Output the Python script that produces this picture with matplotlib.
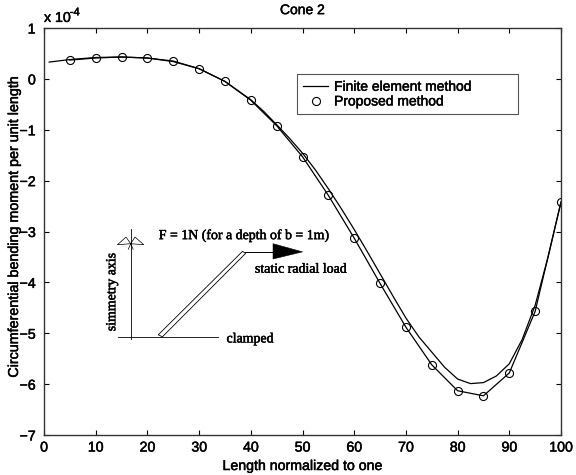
import matplotlib
matplotlib.use('Agg')
import matplotlib.pyplot as plt
import matplotlib.patheffects as pe
from matplotlib.patches import Polygon
from matplotlib.text import Text

plt.rcParams['font.family'] = ['Liberation Sans', 'DejaVu Sans']

# values are in units of 1e-4
fem_x = [1, 5, 10, 15, 20, 25, 30, 35, 40, 42.5, 45, 47.5, 50, 52.5, 55, 57.5, 60, 62.5, 65, 67.5, 70, 72.5, 75, 77.5, 80, 82.5, 85, 87.5, 90, 92.5, 95, 97.5, 100]
fem_y = [0.33, 0.38, 0.42, 0.43, 0.41, 0.34, 0.2, -0.05, -0.41, -0.64, -0.9, -1.17, -1.46, -1.79, -2.16, -2.55, -2.96, -3.39, -3.83, -4.27, -4.70, -5.07, -5.37, -5.67, -5.90, -5.99, -5.97, -5.84, -5.6, -5.12, -4.45, -3.50, -2.42]

prop_x = [5, 10, 15, 20, 25, 30, 35, 40, 45, 50, 55, 60, 65, 70, 75, 80, 85, 90, 95, 100]
prop_y = [0.37, 0.41, 0.43, 0.41, 0.35, 0.2, -0.05, -0.42, -0.92, -1.53, -2.29, -3.13, -4.02, -4.88, -5.62, -6.13, -6.23, -5.78, -4.57, -2.42]

x_ticks = [0, 10, 20, 30, 40, 50, 60, 70, 80, 90, 100]
y_ticks = [1, 0, -1, -2, -3, -4, -5, -6, -7]

# sketch of the cone, in axis data units
axis_x = [16.77, 16.77]
axis_y = [-2.95, -5.12]
clamp_x = [14.3, 33.7]
clamp_y = [-5.08, -5.08]
beam_xy = [(22.1, -5.03), (22.9, -5.07), (39.0, -3.43), (38.4, -3.39)]
load_x = [38.9, 44.3]
load_y = [-3.4, -3.4]
head_xy = [(44.3, -3.24), (44.3, -3.54), (50.0, -3.4)]
wing_l_x = [16.77, 15.87, 14.2, 16.77]
wing_l_y = [-3.24, -3.11, -3.26, -3.24]
wing_r_x = [16.77, 17.6, 19.3, 16.77]
wing_r_y = [-3.24, -3.11, -3.26, -3.24]
tail_x = [16.3, 16.77, 17.25]
tail_y = [-3.35, -3.24, -3.35]

fig = plt.figure(figsize=(5.76, 4.75), dpi=100)
ax = fig.add_axes([44 / 576, 1 - 435 / 475, 517 / 576, 407 / 475])

ax.plot(fem_x, fem_y, color='black', lw=0.9, label='Finite element method')
ax.plot(prop_x, prop_y, color='black', lw=0.9)
ax.plot(prop_x, prop_y, 'o', mfc='none', mec='black', ms=5.8, mew=0.8, label='Proposed method')

ax.set_xlim(0, 100)
ax.set_ylim(-7, 1)
ax.set_xticks(x_ticks)
ax.set_yticks(y_ticks)
ax.tick_params(direction='in', length=3.5, width=0.8, labelsize=10.2, top=True, right=True)
ax.tick_params(axis='x', pad=4)
ax.tick_params(axis='y', pad=6)
for s in ax.spines.values():
    s.set_linewidth(1.0)
    s.set_color('#333333')

ax.set_title('Cone 2', fontsize=10, pad=10)
ax.set_xlabel('Length normalized to one', fontsize=10.2)
ax.set_ylabel('Circumferential bending moment per unit length', fontsize=10.3)
ax.xaxis.set_label_coords(0.5, -0.059)
ax.yaxis.set_label_coords(-0.0445, 0.513)
ax.text(0, 1.015, 'x 10', transform=ax.transAxes, fontsize=10.2, va='baseline')
ax.text(0.05, 1.031, '-4', transform=ax.transAxes, fontsize=8, va='baseline')

leg = ax.legend(loc='lower left', bbox_to_anchor=(0.4893, 0.788, 0.4275, 0.1047), mode='expand', fontsize=10,
                fancybox=False, edgecolor='#555555', framealpha=1, borderaxespad=0, handlelength=1.85,
                labelspacing=0.05, borderpad=0.42, handletextpad=0.4)
leg.get_frame().set_linewidth(0.8)

# cone sketch
ax.plot(axis_x, axis_y, color='black', lw=0.6)
ax.plot(clamp_x, clamp_y, color='black', lw=0.6)
ax.plot(wing_l_x, wing_l_y, color='black', lw=0.5)
ax.plot(wing_r_x, wing_r_y, color='black', lw=0.5)
ax.plot(tail_x, tail_y, color='black', lw=0.5)
ax.plot(load_x, load_y, color='black', lw=0.7)
ax.add_patch(Polygon(beam_xy, closed=True, fc='white', ec='black', lw=0.6))
ax.add_patch(Polygon(head_xy, closed=True, fc='black', ec='black', lw=0.4))

serif = ['Liberation Serif', 'DejaVu Serif']
ax.text(22.2, -3.15, 'F = 1N (for a depth of b = 1m)', family=serif, fontsize=10, va='baseline')
ax.text(40.8, -3.81, 'static radial load', family=serif, fontsize=10, va='baseline')
ax.text(35.3, -5.18, 'clamped', family=serif, fontsize=10, va='baseline')
ax.text(13.1, -4.19, 'simmetry axis', family=serif, fontsize=10, rotation=90, ha='center', va='center')

# the scanned text is heavier than the plain font
for t in fig.findobj(Text):
    t.set_path_effects([pe.withStroke(linewidth=0.35, foreground='black')])

fig.savefig('out.png', dpi=100)
